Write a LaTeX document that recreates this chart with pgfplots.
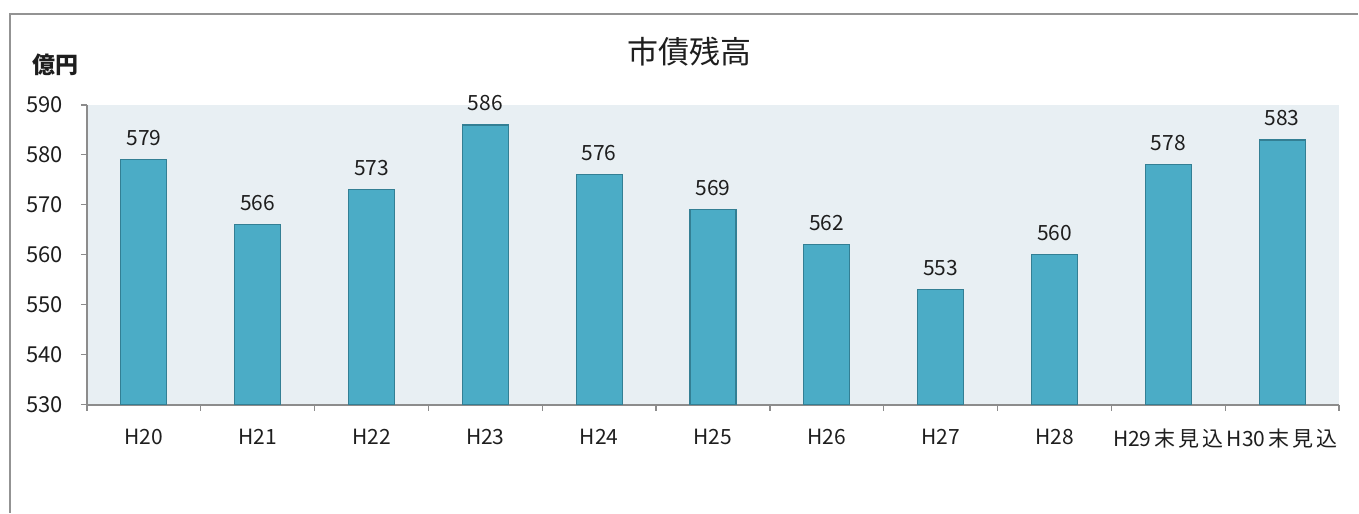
\documentclass[border=0pt]{standalone}
\usepackage{fontspec}
\setmainfont{Noto Sans CJK JP}
\usepackage{pgfplots}
\pgfplotsset{compat=1.18}
\definecolor{barfill}{HTML}{4BACC6}
\definecolor{baredge}{HTML}{337F94}
\definecolor{bgfill}{HTML}{E8EFF3}
\definecolor{axgray}{HTML}{8C8C8C}
\definecolor{txt}{HTML}{1E1E1E}
\newcommand{\js}{\hspace{1.5bp}}
\begin{document}
\begin{tikzpicture}[x=1bp,y=1bp]
\path (0,0) rectangle (679.5,256.5);
\draw[color=gray!85, line width=1bp] (5,0) -- (5,249.5) -- (679.5,249.5);
\node[text=txt, font=\fontsize{15.5bp}{18bp}\selectfont] at (345,230.5) {市債残高};
\node[text=txt, font=\fontsize{11.5bp}{13bp}\selectfont\bfseries] at (28,224) {億円};
\begin{axis}[at={(43.5bp,54bp)}, anchor=south west, scale only axis,
  width=626.5bp, height=150bp,
  xmin=-0.5, xmax=10.5, ymin=530, ymax=590,
  ytick={530,540,...,590},
  xtick={0,...,10},
  xticklabels={H20,H21,H22,H23,H24,H25,H26,H27,H28,{H29\js{}末\js{}見\js{}込},{H30\js{}末\js{}見\js{}込}},
  minor xtick={-0.5,0.5,...,10.5},
  axis x line*=bottom, axis y line*=left,
  axis line style={axgray, line width=0.8bp, -},
  axis background/.style={fill=bgfill},
  every major x tick/.append style={draw=none},
  major tick length=3bp, minor tick length=3bp, tick align=outside,
  tick style={axgray, line width=0.6bp},
  /pgf/number format/assume math mode=true,
  ticklabel style={text=txt, font=\fontsize{11bp}{13bp}\selectfont},
  xticklabel style={yshift=-5.5bp, font=\fontsize{10.5bp}{12bp}\selectfont},
  yticklabel style={xshift=-5.5bp},
  ybar, bar width=23bp,
  nodes near coords,
  every node near coord/.append style={text=txt, font=\fontsize{10.5bp}{12bp}\selectfont, yshift=3.5bp},
]
\addplot[fill=barfill, draw=baredge, line width=0.6bp] coordinates {
(0,579) (1,566) (2,573) (3,586) (4,576) (5,569) (6,562) (7,553) (8,560) (9,578) (10,583)};
\end{axis}
\end{tikzpicture}
\end{document}
